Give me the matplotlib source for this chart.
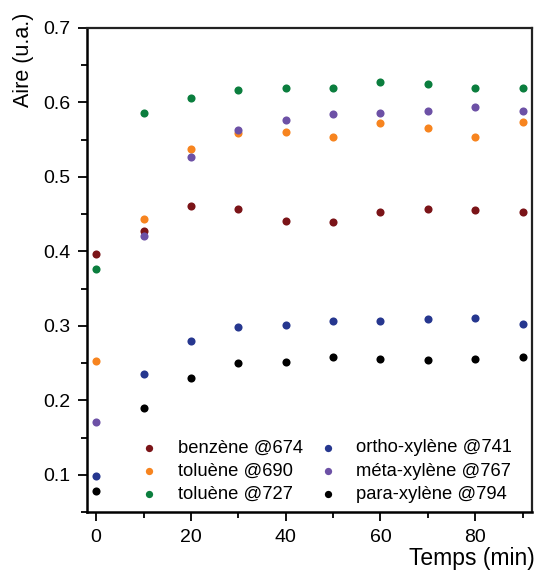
import matplotlib
matplotlib.use("Agg")
import matplotlib.pyplot as plt
from matplotlib.ticker import MultipleLocator

plt.rcParams['font.family'] = ['Liberation Sans', 'DejaVu Sans']

temps = [0, 10, 20, 30, 40, 50, 60, 70, 80, 90]
benzene_674 = [0.397, 0.428, 0.461, 0.457, 0.441, 0.440, 0.453, 0.457, 0.456, 0.453]
toluene_690 = [0.253, 0.443, 0.537, 0.559, 0.560, 0.554, 0.572, 0.566, 0.554, 0.574]
toluene_727 = [0.377, 0.586, 0.606, 0.617, 0.620, 0.620, 0.627, 0.625, 0.619, 0.620]
ortho_741 = [0.098, 0.235, 0.279, 0.299, 0.301, 0.306, 0.307, 0.309, 0.311, 0.303]
meta_767 = [0.171, 0.421, 0.527, 0.563, 0.576, 0.585, 0.586, 0.589, 0.594, 0.589]
para_794 = [0.078, 0.190, 0.230, 0.250, 0.252, 0.258, 0.255, 0.254, 0.256, 0.258]

labels = ["benzène @674", "toluène @690", "toluène @727",
          "ortho-xylène @741", "méta-xylène @767", "para-xylène @794"]
series = [benzene_674, toluene_690, toluene_727, ortho_741, meta_767, para_794]
colors = ["#7b1418", "#f7841f", "#0b7e3e", "#26378f", "#6d51a6", "#000000"]

fig = plt.figure(figsize=(5.38, 5.71), dpi=100)
ax = fig.add_axes([86.7/538, 1-512/571, (532-86.7)/538, (512-28)/571])

for vals, lab, c in zip(series, labels, colors):
    ax.scatter(temps, vals, s=34, color=c, label=lab, linewidths=0, zorder=3)

ax.set_xlim(-2.0, 92.0)
ax.set_ylim(0.05, 0.7)
ax.xaxis.set_major_locator(MultipleLocator(20))
ax.xaxis.set_minor_locator(MultipleLocator(10))
ax.set_yticks([0.1, 0.2, 0.3, 0.4, 0.5, 0.6, 0.7])
ax.set_yticklabels(["0.1", "0.2", "0.3", "0.4", "0.5", "0.6", "0.7"])
ax.yaxis.set_minor_locator(MultipleLocator(0.05))

ax.tick_params(which='major', direction='out', length=6.5, width=1.3, labelsize=14, colors='black')
ax.tick_params(which='minor', direction='out', length=4, width=1.3)
ax.tick_params(axis='x', pad=6)
ax.tick_params(axis='y', pad=5)

for side in ['left', 'bottom']:
    ax.spines[side].set_linewidth(1.8)
for side in ['top', 'right']:
    ax.spines[side].set_linewidth(1.6)
    ax.spines[side].set_color('#222222')

ax.set_xlabel("Temps (min)", fontsize=16.5)
ax.xaxis.set_label_coords(1.007, -0.073)
ax.xaxis.label.set_horizontalalignment('right')
ax.xaxis.label.set_verticalalignment('top')
ax.set_ylabel("Aire (u.a.)", fontsize=15.5)
ax.yaxis.set_label_coords(-0.1655, 1.031)
ax.yaxis.label.set_verticalalignment('top')
ax.yaxis.label.set_horizontalalignment('right')

leg = ax.legend(ncol=2, loc='lower right', bbox_to_anchor=(0.992, -0.016), frameon=False,
                fontsize=13.2, markerscale=0.9, handletextpad=0.95, columnspacing=0.75,
                labelspacing=0.35, handlelength=1.2)

fig.savefig("out.png", dpi=100)
